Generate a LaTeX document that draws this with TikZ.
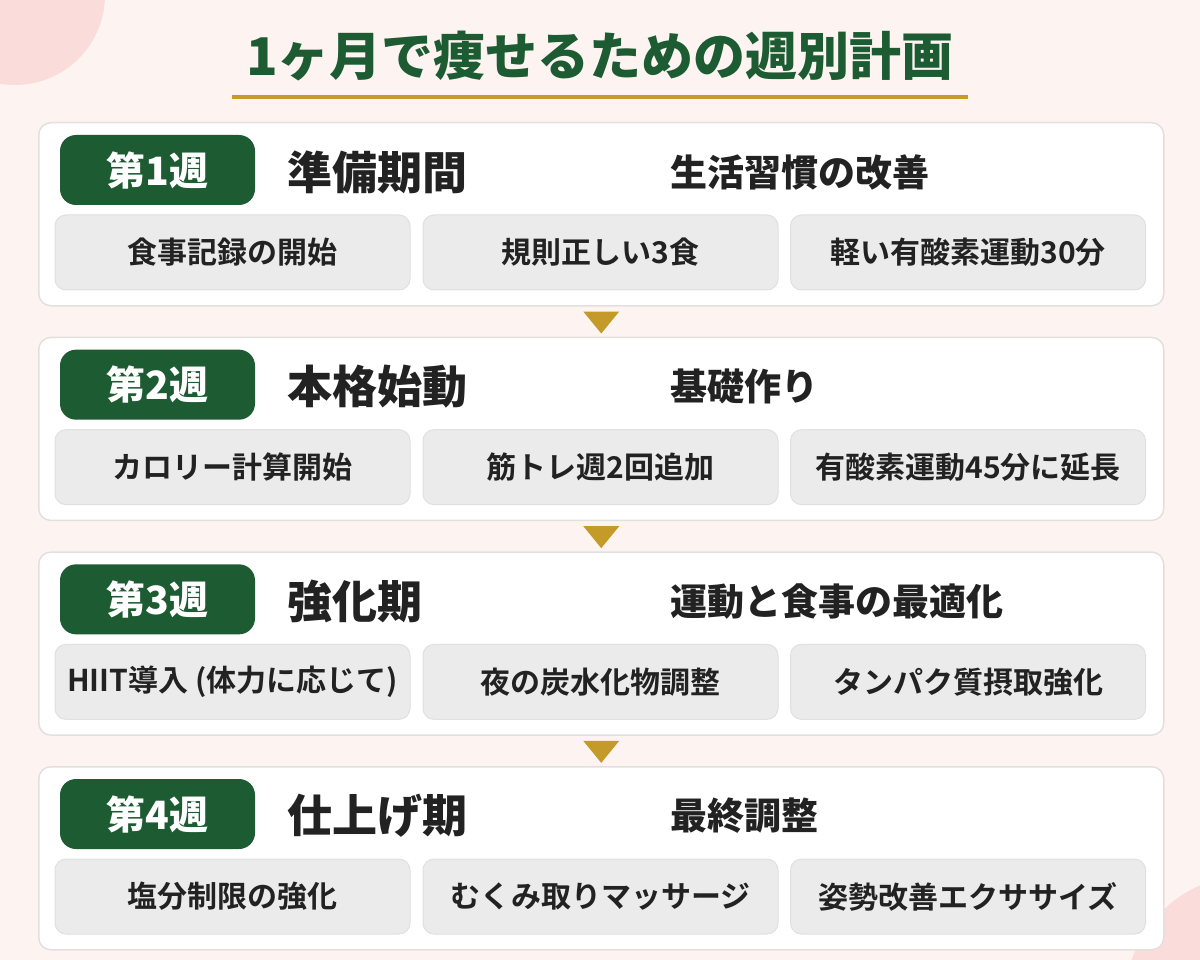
\documentclass[tikz,border=0pt]{standalone}
\usepackage{fontspec}
\setmainfont{Noto Sans CJK JP}[BoldFont={Noto Sans CJK JP Bold}]
\newfontfamily\titlefont{Noto Sans CJK JP Black}
\usetikzlibrary{calc}
\definecolor{bgc}{HTML}{FDF4F2}
\definecolor{pinkc}{HTML}{FADCDB}
\definecolor{greenc}{HTML}{1D5C32}
\definecolor{goldc}{HTML}{C49A28}
\definecolor{textc}{HTML}{222222}
\definecolor{cardline}{HTML}{E4DFDF}
\definecolor{itemfill}{HTML}{EBEBEB}
\definecolor{itemline}{HTML}{E0E0E0}
\tikzset{
  card/.style={draw=cardline, line width=1.5pt, fill=white, rounded corners=12pt, minimum width=1125pt, minimum height=183pt, anchor=north west, inner sep=0pt},
  badge/.style={fill=greenc, rounded corners=16pt, minimum width=195pt, minimum height=70pt, inner sep=0pt, text=white, font=\titlefont\fontsize{39}{44}\selectfont},
  heading/.style={anchor=west, inner sep=0pt, text=textc, font=\titlefont\fontsize{45}{50}\selectfont},
  subtitle/.style={anchor=west, inner sep=0pt, text=textc, font=\titlefont\fontsize{37}{42}\selectfont},
  item/.style={draw=itemline, line width=1pt, fill=itemfill, rounded corners=11pt, minimum width=355pt, minimum height=75pt, inner sep=0pt, text=textc, font=\bfseries\fontsize{30}{34}\selectfont},
  arrowtri/.style={fill=goldc},
}
\begin{document}
\begin{tikzpicture}[x=1pt,y=-1pt]
\fill[bgc] (0,0) rectangle (1200,960);
\useasboundingbox (0,0) rectangle (1200,960);
\fill[pinkc] (15,-5) circle (90pt);
\fill[pinkc] (1250,1000) circle (125pt);
\node[text=greenc, inner sep=0pt, font=\titlefont\fontsize{52}{58}\selectfont] (title) at (600,56) {1ヶ月で痩せるための週別計画};
\draw[goldc, line width=4pt] (232,97) -- (968,97);
\foreach \i/\h/\s/\a/\b/\c in {
  1/準備期間/生活習慣の改善/食事記録の開始/規則正しい3食/軽い有酸素運動30分,
  2/本格始動/基礎作り/カロリー計算開始/筋トレ週2回追加/有酸素運動45分に延長,
  3/強化期/運動と食事の最適化/HIIT導入 (体力に応じて)/夜の炭水化物調整/タンパク質摂取強化,
  4/仕上げ期/最終調整/塩分制限の強化/むくみ取りマッサージ/姿勢改善エクササイズ}{
  \pgfmathsetmacro{\t}{122+214.67*(\i-1)}
  \node[card] (card\i) at (38,\t) {};
  \node[badge] (badge\i) at (157.5,\t+48) {第\i 週};
  \node[heading] (head\i) at (287,\t+50) {\h};
  \node[subtitle] (sub\i) at (670,\t+50) {\s};
  \node[item] (itema\i) at (232.5,\t+130.5) {\a};
  \node[item] (itemb\i) at (600.5,\t+130.5) {\b};
  \node[item] (itemc\i) at (968,\t+130.5) {\c};
}
\foreach \i in {1,2,3}{
  \fill[arrowtri] ($(card\i.south)+(-18,5)$) -- ($(card\i.south)+(18,5)$) -- ($(card\i.south)+(0,27)$) -- cycle;
}
\end{tikzpicture}
\end{document}
